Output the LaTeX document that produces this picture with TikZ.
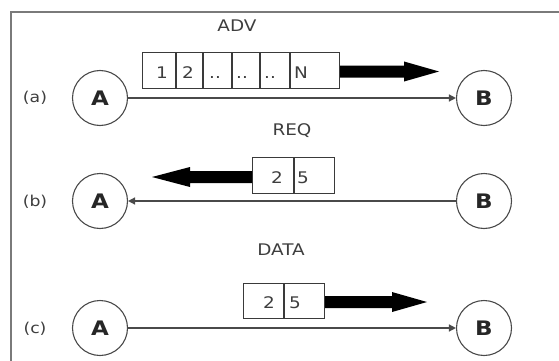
\documentclass[tikz,border=0pt]{standalone}
\usepackage{fontspec}
\setmainfont{DejaVu Sans}[FakeStretch=1.15]
\usetikzlibrary{arrows.meta}
\definecolor{framegray}{HTML}{7A7A7A}
\definecolor{linegray}{HTML}{4A4A4A}
\definecolor{boxgray}{HTML}{3A3A3A}
\definecolor{textgray}{HTML}{3E3E3E}
\begin{document}
\begin{tikzpicture}[x=1pt,y=-1pt,
  station/.style={circle,draw=linegray,line width=1.1pt,minimum size=55pt,inner sep=0pt,
    font=\fontsize{20}{20}\selectfont\bfseries,text=black!85},
  cell/.style={draw=boxgray,line width=1pt,minimum height=35pt,inner sep=0pt,anchor=west},
  link/.style={draw=linegray,line width=1.4pt,-{Triangle[length=7pt,width=7pt]}},
  tag/.style={font=\fontsize{16}{16}\selectfont,text=textgray},
  rowlbl/.style={font=\fontsize{15}{15}\selectfont,text=textgray},
  num/.style={font=\fontsize{16}{16}\selectfont,text=textgray,anchor=base,inner sep=0pt},
  bigarrow/.style={fill=black}]
\useasboundingbox (0,0) rectangle (559,361);
\draw[framegray,line width=1.5pt] (11,365) -- (11,12) -- (565,12);

% ---- row (a)
\node[rowlbl] (la) at (35,98) {(a)};
\node[station] (A1) at (100,98) {A};
\node[station] (B1) at (484,98) {B};
\draw[link] (A1) -- (B1);
\node[tag] (adv) at (237,26) {ADV};
\node[cell,minimum width=33pt] (a1) at (142,70.5) {};
\node[cell,minimum width=26pt] (a2) at (a1.east) {};
\node[cell,minimum width=28pt] (a3) at (a2.east) {};
\node[cell,minimum width=27pt] (a4) at (a3.east) {};
\node[cell,minimum width=29pt] (a5) at (a4.east) {};
\node[cell,minimum width=49pt] (a6) at (a5.east) {};
\node[num] (t1) at (162,78) {1};
\node[num] (t2) at (188,78) {2};
\node[num] (t3) at (215,78) {..};
\node[num] (t4) at (242,78) {..};
\node[num] (t5) at (270,78) {..};
\node[num] (t6) at (301,78) {N};
\fill[bigarrow] ([yshift=-1pt]a6.east) ++(0,-6) -- ++(64,0) -- ++(0,-4) -- ++(35,10)
  -- ++(-35,10) -- ++(0,-4) -- ++(-64,0) -- cycle;

% ---- row (b)
\node[rowlbl] (lb) at (35,202) {(b)};
\node[station] (A2) at (100,201) {A};
\node[station] (B2) at (484,201) {B};
\draw[link] (B2) -- (A2);
\node[tag] (req) at (292,131) {REQ};
\node[cell,minimum width=41pt,minimum height=36pt] (b1) at (252,175) {};
\node[cell,minimum width=40pt,minimum height=36pt] (b2) at (b1.east) {};
\node[num] (u1) at (277,183) {2};
\node[num] (u2) at (303,183) {5};
\fill[bigarrow] ([yshift=-2pt]b1.west) ++(0,-6) -- ++(-62,0) -- ++(0,-4) -- ++(-38,10)
  -- ++(38,10) -- ++(0,-4) -- ++(62,0) -- cycle;

% ---- row (c)
\node[rowlbl] (lc) at (35,329) {(c)};
\node[station] (A3) at (100,328) {A};
\node[station] (B3) at (484,328) {B};
\draw[link] (A3) -- (B3);
\node[tag] (data) at (281,250) {DATA};
\node[cell,minimum width=40pt] (c1) at (243,300.5) {};
\node[cell,minimum width=40pt] (c2) at (c1.east) {};
\node[num] (v1) at (269,308) {2};
\node[num] (v2) at (295,308) {5};
\fill[bigarrow] ([yshift=-1.5pt]c2.east) ++(0,-6) -- ++(67,0) -- ++(0,-4) -- ++(35,10)
  -- ++(-35,10) -- ++(0,-4) -- ++(-67,0) -- cycle;
\end{tikzpicture}
\end{document}
